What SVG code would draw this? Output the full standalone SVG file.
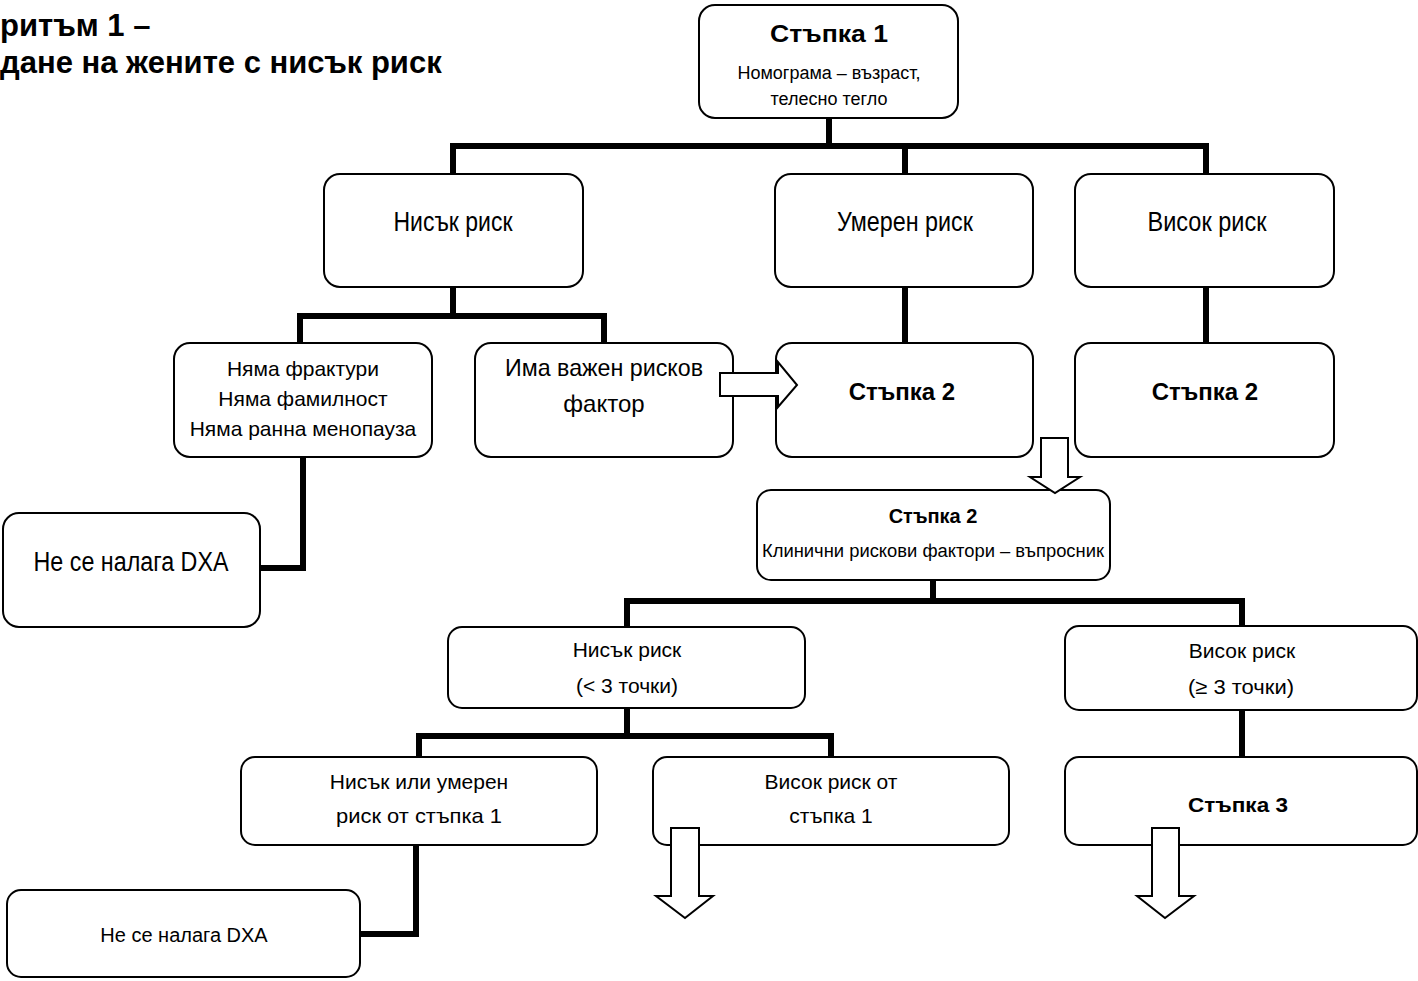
<svg xmlns="http://www.w3.org/2000/svg" width="1418" height="981" viewBox="0 0 1418 981">
<style>
.box{fill:#fff;stroke:#000;stroke-width:2}
.conn{fill:none;stroke:#000;stroke-width:6;stroke-linejoin:miter;stroke-linecap:square}
.arr{fill:#fff;stroke:#000;stroke-width:2;stroke-linejoin:miter}
text{font-family:"Liberation Sans",Arial,sans-serif;fill:#000;text-anchor:middle}
.title{font-weight:bold;font-size:31px;text-anchor:start}
.b{font-weight:bold}
</style>
<rect width="1418" height="981" fill="#fff"/>
<g id="title">
<text class="title" x="0" y="36">ритъм 1 –</text>
<text class="title" x="0" y="73">дане на жените с нисък риск</text>
</g>
<g id="connectors">
<path class="conn" d="M829 118 V146 M453 174 V146 H1206 V174 M905 146 V174"/>
<path class="conn" d="M453 287 V316 M300 343 V316 H604 V343"/>
<path class="conn" d="M905 287 V343 M1206 287 V343"/>
<path class="conn" d="M303 457 V568 H260"/>
<path class="conn" d="M933 580 V601 M627 627 V601 H1242 V627"/>
<path class="conn" d="M627 708 V736 M419 757 V736 H831 V757"/>
<path class="conn" d="M1242 710 V757"/>
<path class="conn" d="M416 845 V934 H360"/>
</g>
<g id="step1">
<rect class="box" x="699" y="5" width="259" height="113" rx="16"/>
<text class="b" x="829" y="42" font-size="24" textLength="118" lengthAdjust="spacingAndGlyphs">Стъпка 1</text>
<text x="829" y="79" font-size="18">Номограма – възраст,</text>
<text x="829" y="105" font-size="18">телесно тегло</text>
</g>
<g id="low1">
<rect class="box" x="324" y="174" width="259" height="113" rx="16"/>
<text x="453" y="231" font-size="27" textLength="119" lengthAdjust="spacingAndGlyphs">Нисък риск</text>
</g>
<g id="mod1">
<rect class="box" x="775" y="174" width="258" height="113" rx="16"/>
<text x="905" y="231" font-size="27" textLength="136" lengthAdjust="spacingAndGlyphs">Умерен риск</text>
</g>
<g id="high1">
<rect class="box" x="1075" y="174" width="259" height="113" rx="16"/>
<text x="1207" y="231" font-size="27" textLength="119" lengthAdjust="spacingAndGlyphs">Висок риск</text>
</g>
<g id="nofr">
<rect class="box" x="174" y="343" width="258" height="114" rx="16"/>
<text x="303" y="376" font-size="21">Няма фрактури</text>
<text x="303" y="406" font-size="21">Няма фамилност</text>
<text x="303" y="436" font-size="21">Няма ранна менопауза</text>
</g>
<g id="riskfactor">
<rect class="box" x="475" y="343" width="258" height="114" rx="16"/>
<text x="604" y="376" font-size="24" textLength="198" lengthAdjust="spacingAndGlyphs">Има важен рисков</text>
<text x="604" y="412" font-size="24">фактор</text>
</g>
<g id="step2a">
<rect class="box" x="776" y="343" width="257" height="114" rx="16"/>
<text class="b" x="902" y="400" font-size="24">Стъпка 2</text>
</g>
<g id="step2b">
<rect class="box" x="1075" y="343" width="259" height="114" rx="16"/>
<text class="b" x="1205" y="400" font-size="24">Стъпка 2</text>
</g>
<g id="dxa1">
<rect class="box" x="3" y="513" width="257" height="114" rx="16"/>
<text x="131" y="571" font-size="27" textLength="195" lengthAdjust="spacingAndGlyphs">Не се налага DXA</text>
</g>
<g id="step2main">
<rect class="box" x="757" y="490" width="353" height="90" rx="14"/>
<text class="b" x="933" y="523" font-size="20">Стъпка 2</text>
<text x="933" y="557" font-size="18" textLength="342" lengthAdjust="spacingAndGlyphs">Клинични рискови фактори – въпросник</text>
</g>
<g id="low2">
<rect class="box" x="448" y="627" width="357" height="81" rx="14"/>
<text x="627" y="657" font-size="21">Нисък риск</text>
<text x="627" y="693" font-size="21">(&lt; 3 точки)</text>
</g>
<g id="high2">
<rect class="box" x="1065" y="626" width="352" height="84" rx="14"/>
<text x="1242" y="658" font-size="21">Висок риск</text>
<text x="1241" y="694" font-size="21" textLength="106" lengthAdjust="spacingAndGlyphs">(≥ 3 точки)</text>
</g>
<g id="lowmod">
<rect class="box" x="241" y="757" width="356" height="88" rx="14"/>
<text x="419" y="789" font-size="21">Нисък или умерен</text>
<text x="419" y="823" font-size="21" textLength="166" lengthAdjust="spacingAndGlyphs">риск от стъпка 1</text>
</g>
<g id="highfrom1">
<rect class="box" x="653" y="757" width="356" height="88" rx="14"/>
<text x="831" y="789" font-size="21">Висок риск от</text>
<text x="831" y="823" font-size="21">стъпка 1</text>
</g>
<g id="step3">
<rect class="box" x="1065" y="757" width="352" height="88" rx="14"/>
<text class="b" x="1238" y="812" font-size="21" textLength="100" lengthAdjust="spacingAndGlyphs">Стъпка 3</text>
</g>
<g id="dxa2">
<rect class="box" x="7" y="890" width="353" height="87" rx="14"/>
<text x="184" y="942" font-size="20">Не се налага DXA</text>
</g>
<g id="arrows">
<polygon class="arr" points="720,373 778,373 778,362 797,385 778,407 778,396 720,396"/>
<polygon class="arr" points="1041,438 1068,438 1068,477 1080,477 1055,493 1030,477 1041,477"/>
<polygon class="arr" points="671,828 699,828 699,896 713,896 685,918 656,896 671,896"/>
<polygon class="arr" points="1152,828 1179,828 1179,896 1194,896 1165,918 1137,896 1152,896"/>
</g>
</svg>
